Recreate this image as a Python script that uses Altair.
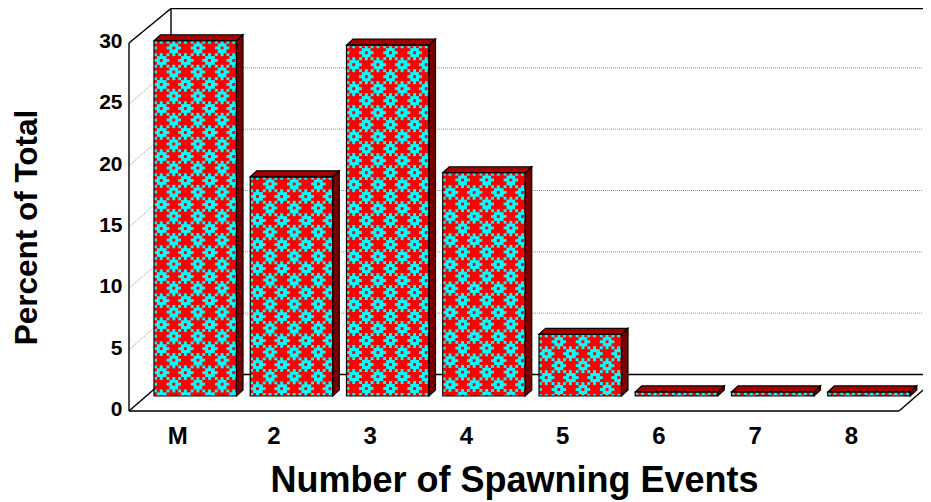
import urllib.parse
import altair as alt
import pandas as pd

# Data
categories = ["M", "2", "3", "4", "5", "6", "7", "8"]
values = [28.96, 17.87, 28.6, 18.2, 5.03, 0.33, 0.33, 0.33]
y_ticks = [0, 5, 10, 15, 20, 25, 30]
grid_values = [5, 10, 15, 20, 25]

# Scale geometry and 3-D projection in data units
PX_X, PX_Y = 770, 368
X_PER = 8 / PX_X
Y_PER = 30 / PX_Y
wall_dx, wall_dy = 42 * X_PER, 36.5 * Y_PER
top_val = 402.5 * Y_PER
bar_off, bar_w = 25 * X_PER, 82.5 * X_PER
bar_dx, bar_dy = 6.5 * X_PER, 6 * Y_PER
bar_base = 15 * Y_PER
RED, CYAN = "#ff0000", "#00ffff"
TOP, SIDE = "#a80000", "#7a0000"
FONT = "Liberation Sans"

tile = ["CRCRCRCR", "RRRRRCCC", "CRRRCCRC", "RRRRRCCC",
        "CRCRCRCR", "RCCCRRRR", "CCRCCRRR", "RCCCRRRR"]


def pattern_url(w, h):
    cells = "".join(
        f"<rect x='{x*3}' y='{y*3}' width='3' height='3' fill='{CYAN}'/>"
        for y, row in enumerate(tile) for x, c in enumerate(row) if c == "C")
    svg = (f"<svg xmlns='http://www.w3.org/2000/svg' width='{w}' height='{h}' shape-rendering='crispEdges'>"
           f"<defs><pattern id='p' width='24' height='24' patternUnits='userSpaceOnUse'>{cells}</pattern></defs>"
           f"<rect width='{w}' height='{h}' fill='{RED}'/><rect width='{w}' height='{h}' fill='url(#p)'/></svg>")
    return "data:image/svg+xml," + urllib.parse.quote(svg)


fronts, tops, sides = [], [], []
for i, (c, v) in enumerate(zip(categories, values)):
    xl = i + bar_off
    xr = xl + bar_w
    y0 = bar_base
    y1 = bar_base + v
    fronts.append(dict(cat=c, xl=xl, xr=xr, y0=y0, y1=y1,
                       url=pattern_url(round(bar_w / X_PER), max(1, round(v / Y_PER)))))
    for x, a, b in [(xl, y1, y1), (xl + bar_dx, y1 + bar_dy, y1),
                    (xr, y1 + bar_dy, y1), (xr + bar_dx, y1 + bar_dy, y1 + bar_dy)]:
        tops.append(dict(cat=c, x=x, a=a, b=b))
    for x, a, b in [(xr, y1, y0), (xr + bar_dx, y1 + bar_dy, y0 + bar_dy)]:
        sides.append(dict(cat=c, x=x, a=a, b=b))
fronts, tops, sides = map(pd.DataFrame, (fronts, tops, sides))

xs = alt.Scale(domain=[0, 8], nice=False)
ys = alt.Scale(domain=[0, 30], nice=False)

x_axis = alt.Axis(
    title="Number of Spawning Events", values=[i + 0.5 for i in range(8)],
    labelExpr="['M','2','3','4','5','6','7','8'][datum.value - 0.5]",
    domain=False, ticks=False, grid=False, labelFont=FONT, labelFontWeight="bold",
    labelFontSize=24, labelColor="#000", labelPadding=13, labelAngle=0,
    titleFont=FONT, titleFontWeight="bold", titleFontSize=36, titleColor="#000", titlePadding=15)
y_axis = alt.Axis(
    title="Percent of Total", values=y_ticks, domain=False, ticks=False, grid=False,
    labelFont=FONT, labelFontWeight="bold", labelFontSize=21, labelColor="#000", labelPadding=7,
    labelOffset=-1.5, titleFont=FONT, titleFontWeight="bold", titleFontSize=31.5,
    titleColor="#000", titlePadding=55)


def segs(rows):
    out = []
    for k, (x1, y1, x2, y2) in enumerate(rows):
        out += [dict(k=k, o=0, x=x1, y=y1), dict(k=k, o=1, x=x2, y=y2)]
    return pd.DataFrame(out)


def lines(rows, color, width, dash=(1, 0)):
    return alt.Chart(segs(rows)).mark_line(color=color, strokeWidth=width, strokeDash=list(dash)).encode(
        x=alt.X("x:Q", scale=xs, axis=x_axis), y=alt.Y("y:Q", scale=ys, axis=y_axis),
        detail="k:N", order="o:Q")


far = 9.0
grid = lines([(wall_dx, g + wall_dy, far, g + wall_dy) for g in grid_values]
             + [(0, g, wall_dx, g + wall_dy) for g in grid_values], "#909090", 1, (1, 1))
frame = lines([(0, 0, 0, 30), (wall_dx, wall_dy, wall_dx, top_val), (0, 30, wall_dx, top_val),
               (wall_dx, top_val, far, top_val), (0, 0, wall_dx, wall_dy),
               (wall_dx, wall_dy, far, wall_dy), (0, 0, 8, 0), (8, 0, 8 + wall_dx, wall_dy)],
              "#000000", 1.4)

X = alt.X("xl:Q", scale=xs, axis=x_axis)
Y = alt.Y("y1:Q", scale=ys, axis=y_axis)
base_red = alt.Chart(fronts).mark_rect(color=RED).encode(x=X, x2="xr:Q", y=Y, y2="y0:Q")
image = alt.Chart(fronts).mark_image(aspect=False, align="left", baseline="top").encode(
    x=X, x2="xr:Q", y=Y, y2="y0:Q", url="url:N")
outline = alt.Chart(fronts).mark_rect(fillOpacity=0, stroke="#000000", strokeWidth=1.2).encode(
    x=X, x2="xr:Q", y=Y, y2="y0:Q")


def face(df, color):
    return alt.Chart(df).mark_area(color=color, stroke="#000000", strokeWidth=1.2).encode(
        x=alt.X("x:Q", scale=xs, axis=x_axis), y=alt.Y("a:Q", scale=ys, axis=y_axis), y2="b:Q", detail="cat:N")


chart = alt.layer(grid, frame, base_red, image, face(sides, SIDE), face(tops, TOP), outline).properties(
    width=PX_X, height=PX_Y, padding={"left": 121, "top": 35, "right": 24, "bottom": 91},
    autosize=alt.AutoSizeParams(type="none"), background="white",
).configure_view(stroke=None)

chart.save("out.html", embed_options={"renderer": "svg", "actions": False})
